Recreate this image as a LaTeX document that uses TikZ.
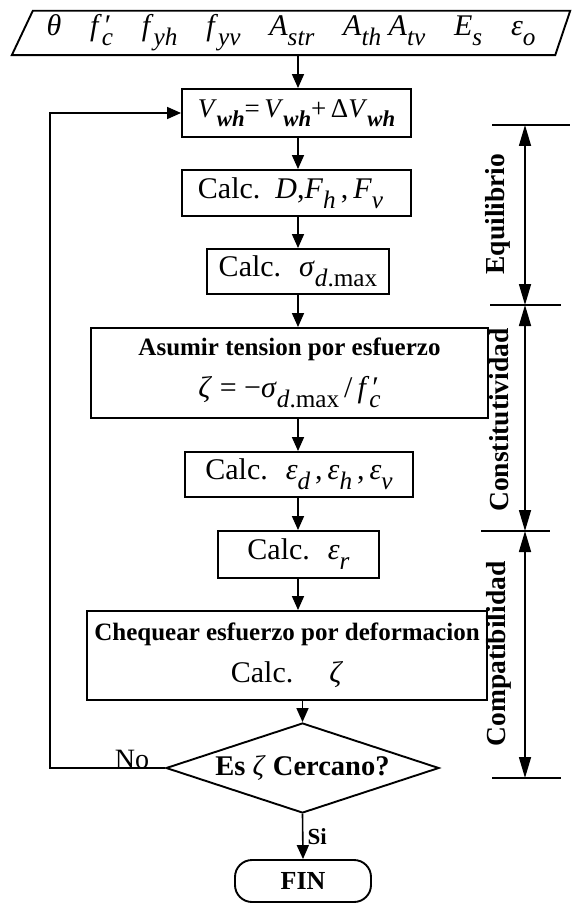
\documentclass[tikz,border=0pt]{standalone}
\usepackage{graphicx}
\usepackage{fontspec}
\setmainfont{Liberation Serif}
\usetikzlibrary{arrows.meta,shapes.geometric,calc}
\newcommand\sbs[1]{\raisebox{-0.33em}{\scalebox{0.84}{#1}}}
\newcommand\isb[1]{\sbs{\itshape #1}}
\newcommand\bsb[1]{\sbs{\bfseries\itshape #1}}
\newcommand\fpc{\textit{f}\makebox[0pt][l]{\hspace{0.1em}′}\isb{c}}
\begin{document}
\begin{tikzpicture}[x=1pt,y=-1pt,
  every node/.style={font=\fontsize{30}{42}\selectfont},
  box/.style={draw,line width=1.9pt,inner sep=0pt,align=center},
  arr/.style={line width=1.6pt,-{Triangle[length=14pt,width=12pt]}},
  dimarr/.style={line width=1.6pt,{Triangle[length=21pt,width=12pt]}-{Triangle[length=21pt,width=12pt]}},
  side/.style={rotate=90,font=\fontsize{27.5}{30}\selectfont\bfseries},
  tick/.style={line width=1.6pt}]
\useasboundingbox (0,0) rectangle (571,904);
% input parallelogram
\node[inner sep=0pt,minimum width=558pt,minimum height=44pt] (params) at (291,33)
  {\makebox[489pt][s]{\textit{θ}\hfill\fpc\hfill\textit{f}\isb{yh}\hfill\textit{f}\isb{yv}\hfill\textit{A}\isb{str}\hfill\textit{A}\isb{th}\hspace{0.25em}\textit{A}\isb{tv}\hfill\textit{E}\isb{s}\hfill\textit{ε}\isb{o}}};
\draw[line width=1.9pt] ($(params.north west)+(21,0)$) -- (params.north east)
  -- ($(params.south east)+(-15,0)$) -- (params.south west) -- cycle;
% boxes
\node[box,minimum width=229pt,minimum height=48pt,font=\fontsize{27}{40}\selectfont] (b1) at (296.5,113)
  {\textit{V}\bsb{wh}=\,\textit{V}\bsb{wh}+\,Δ\textit{V}\bsb{wh}};
\node[box,minimum width=229pt,minimum height=46pt] (b2) at (296.5,193)
  {Calc.\ \ \textit{D},\textit{F}\isb{h}\,,\,\textit{F}\isb{v}\hspace{0.4em}};
\node[box,minimum width=182pt,minimum height=45pt] (b3) at (298,271.5)
  {Calc.\hspace{0.6em}\textit{σ}\sbs{\textit{d}.max}};
\node[box,minimum width=397pt,minimum height=90pt] (b4) at (289.5,373)
  {{\fontsize{25}{40}\selectfont\bfseries Asumir tension por esfuerzo}\\
   \textit{ζ} = −\textit{σ}\sbs{\textit{d}.max}\,/\,\fpc};
\node[box,minimum width=228pt,minimum height=45pt] (b5) at (299,474.5)
  {Calc.\hspace{0.6em}\textit{ε}\isb{d}\,,\,\textit{ε}\isb{h}\,,\,\textit{ε}\isb{v}};
\node[box,minimum width=161pt,minimum height=47pt] (b6) at (298.5,554.5)
  {Calc.\hspace{0.6em}\textit{ε}\isb{r}};
\node[box,minimum width=400pt,minimum height=89pt] (b7) at (287,655.5)
  {{\fontsize{25}{40}\selectfont\bfseries Chequear esfuerzo por deformacion}\\
   Calc.\hspace{1.2em}\textit{ζ}\hspace{1.1em}};
\node[draw,diamond,line width=1.9pt,inner sep=0pt,aspect=3.03,minimum width=273pt,minimum height=90pt,font=\fontsize{28.5}{32}\selectfont] (dia) at (302.5,768)
  {\textbf{Es} \textit{ζ} \textbf{Cercano?}};
\node[draw,line width=1.9pt,rounded corners=17pt,minimum width=136pt,minimum height=42pt,inner sep=0pt,font=\fontsize{26}{30}\selectfont\bfseries] (fin) at (303,881) {FIN};
% connectors
\coordinate (cx) at (298,0);
\draw[arr] (params.south -| cx) -- (b1.north -| cx);
\draw[arr] (b1.south -| cx) -- (b2.north -| cx);
\draw[arr] (b2.south -| cx) -- (b3.north -| cx);
\draw[arr] (b3.south -| cx) -- (b4.north -| cx);
\draw[arr] (b4.south -| cx) -- (b5.north -| cx);
\draw[arr] (b5.south -| cx) -- (b6.north -| cx);
\draw[arr] (b6.south -| cx) -- (b7.north -| cx);
\draw[arr] (b7.south -| dia) -- (dia.north);
\draw[arr] (dia.south) -- node[right,inner sep=4pt,font=\fontsize{23}{26}\selectfont\bfseries] (si) {Si} (fin.north);
\coordinate (lp) at (50,0);
\draw[arr] (dia.west) -- (dia.west -| lp) |- (b1.west);
\node[anchor=south,inner sep=1pt,font=\fontsize{28}{30}\selectfont] (no) at (132,770) {No};
% side dimension lines
\coordinate (t1) at (525,125);
\coordinate (t2) at (525,305);
\coordinate (t3) at (525,531);
\coordinate (t4) at (525,778);
\draw[tick] ($(t1)+(-33,0)$) -- ($(t1)+(45,0)$);
\draw[tick] ($(t2)+(-35,0)$) -- ($(t2)+(36,0)$);
\draw[tick] ($(t3)+(-44,0)$) -- ($(t3)+(25,0)$);
\draw[tick] ($(t4)+(-33,0)$) -- ($(t4)+(36,0)$);
\draw[dimarr] (t1) -- (t2);
\draw[dimarr] (t2) -- (t3);
\draw[dimarr] (t3) -- (t4);
\node[side] (equi) at (498,214) {Equilibrio};
\node[side] (cons) at (499,420) {Constitutividad};
\node[side] (comp) at (499,654) {Compatibilidad};
\end{tikzpicture}
\end{document}
